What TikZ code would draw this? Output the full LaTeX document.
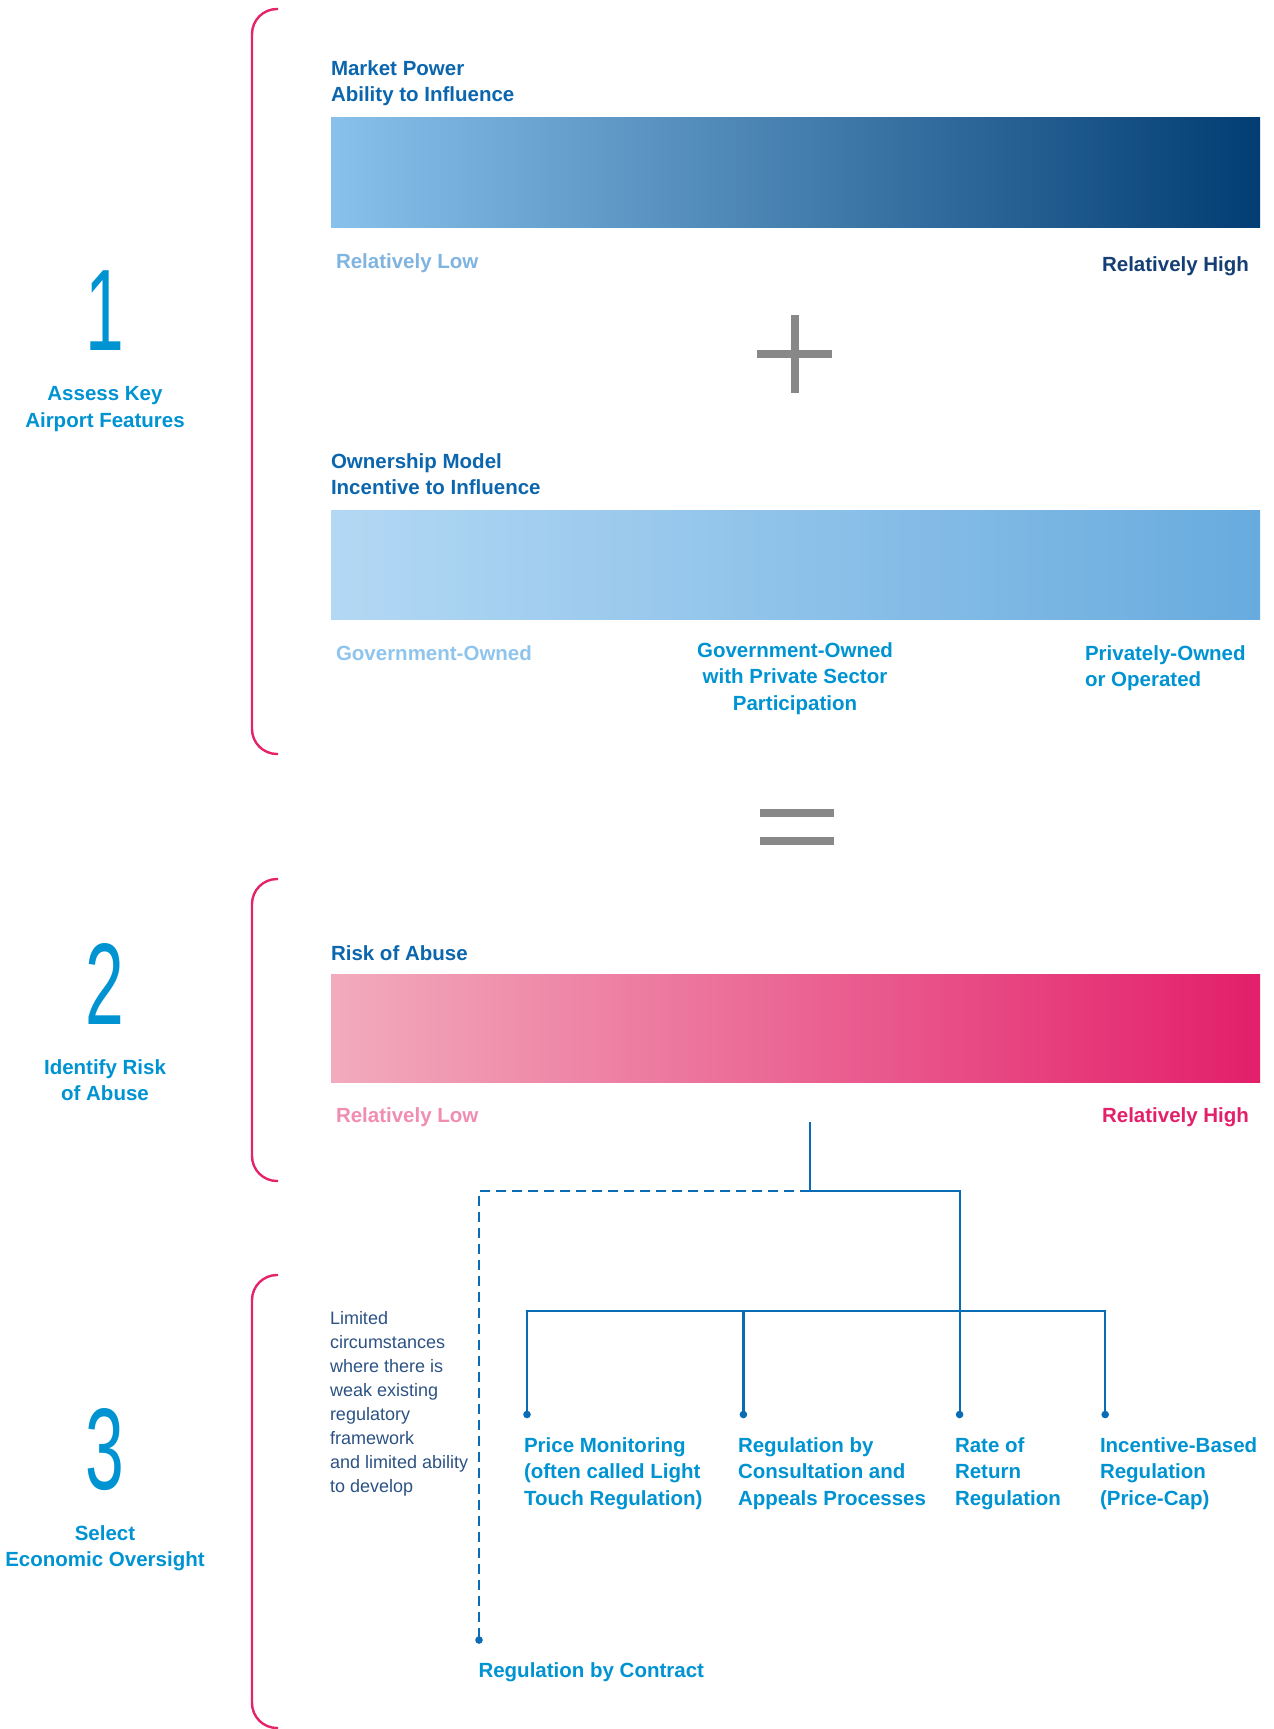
\documentclass[tikz,border=0pt]{standalone}
\usepackage{fontspec}
\setmainfont{Liberation Sans}
\usepackage{graphicx}
\usetikzlibrary{positioning}

\definecolor{titleblue}{HTML}{0B66AE}
\definecolor{stepcyan}{HTML}{0093D2}
\definecolor{navyblue}{HTML}{143E74}
\definecolor{lowblue}{HTML}{7FB4E0}
\definecolor{govblue}{HTML}{8FC5EC}
\definecolor{lowpink}{HTML}{F08DB1}
\definecolor{highpink}{HTML}{E3206A}
\definecolor{bracketred}{HTML}{E5236B}
\definecolor{signgray}{HTML}{888888}
\definecolor{treeblue}{HTML}{0A6CB5}
\definecolor{noteblue}{HTML}{2C5283}

\begin{document}
\begin{tikzpicture}[x=1pt, y=-1pt,
  every node/.style={inner sep=0pt, outer sep=0pt},
  boldtext/.style={font=\fontsize{20.5}{26.5}\selectfont\bfseries},
  bartitle/.style={boldtext, text=titleblue, align=left, anchor=north west},
  steplabel/.style={boldtext, text=stepcyan, align=center, anchor=north},
  stepnum/.style={font=\fontsize{116}{116}\selectfont, text=stepcyan},
  option/.style={boldtext, text=stepcyan, align=left, anchor=north west},
  bracket/.style={draw=bracketred, line width=2.4pt, rounded corners=25pt},
  sign/.style={draw=signgray, line width=8pt},
  tree/.style={draw=treeblue, line width=2.2pt},
  dashtree/.style={tree, dash pattern=on 10pt off 6pt}]
\useasboundingbox (0,0) rectangle (1274,1729);

% brackets
\draw[bracket] (278,9) -- (252,9) -- (252,754) -- (278,754);
\draw[bracket] (278,879) -- (252,879) -- (252,1181) -- (278,1181);
\draw[bracket] (278,1275) -- (252,1275) -- (252,1728) -- (278,1728);

% step numbers and labels
\node[stepnum] (one) at (105,311) {\scalebox{0.6}[1]{1}};
\node[steplabel] (assess) at (105,386.5) {Assess Key\\Airport Features};
\node[stepnum] (two) at (105,984) {\scalebox{0.6}[1]{2}};
\node[steplabel] (identify) at (105,1059.5) {Identify Risk\\of Abuse};
\node[stepnum] (three) at (105,1450) {\scalebox{0.6}[1]{3}};
\node[steplabel] (select) at (105,1525.5) {Select\\Economic Oversight};

% market power
\node[bartitle] (mp) at (331,60.5) {Market Power\\Ability to Influence};
\shade[left color={rgb,255:red,136;green,193;blue,235}, right color={rgb,255:red,2;green,61;blue,115}] (331,117) rectangle (1260,227);
\node[boldtext, text=lowblue, anchor=north west] (mplow) at (336,253.5) {Relatively Low};
\node[boldtext, text=navyblue, anchor=north east] (mphigh) at (1249,256.5) {Relatively High};

\draw[sign] (757,354) -- (832,354);
\draw[sign] (794.5,315) -- (794.5,393);

% ownership model
\node[bartitle] (om) at (331,453.5) {Ownership Model\\Incentive to Influence};
\shade[left color={rgb,255:red,179;green,216;blue,244}, right color={rgb,255:red,104;green,171;blue,222}] (331,510) rectangle (1260,619);
\node[boldtext, text=govblue, anchor=north west] (gov) at (336,645.5) {Government-Owned};
\node[boldtext, text=stepcyan, align=center, anchor=north] (mixed) at (795,642.5) {Government-Owned\\with Private Sector\\Participation};
\node[boldtext, text=stepcyan, align=left, anchor=north west] (priv) at (1085,645.5) {Privately-Owned\\or Operated};

\draw[sign] (760,813) -- (834,813);
\draw[sign] (760,841) -- (834,841);

% risk of abuse
\node[bartitle] (risk) at (331,945.5) {Risk of Abuse};
\shade[left color={rgb,255:red,242;green,171;blue,189}, right color={rgb,255:red,227;green,31;blue,106}] (331,974) rectangle (1260,1082);
\node[boldtext, text=lowpink, anchor=north west] (risklow) at (336,1107.5) {Relatively Low};
\node[boldtext, text=highpink, anchor=north east] (riskhigh) at (1249,1107.5) {Relatively High};

% oversight options
\node[font=\fontsize{18}{24.05}\selectfont, text=noteblue, align=left, anchor=north west] (note) at (330,1311.5) {Limited\\circumstances\\where there is\\weak existing\\regulatory\\framework\\and limited ability\\to develop};
\node[option] (pm) at (524,1437.5) {Price Monitoring\\(often called Light\\Touch Regulation)};
\node[option] (rc) at (738,1437.5) {Regulation by\\Consultation and\\Appeals Processes};
\node[option] (rr) at (955,1437.5) {Rate of\\Return\\Regulation};
\node[option] (ib) at (1100,1437.5) {Incentive-Based\\Regulation\\(Price-Cap)};
\node[option] (rbc) at (478.5,1662.5) {Regulation by Contract};

\coordinate (top) at (809.6,1122);
\coordinate (split) at (809.6,1191);
\coordinate (turn) at (959.6,1191);
\coordinate (dashturn) at (479,1191);
\coordinate (hub) at (959.6,1311);
\coordinate (pmdot) at (527,1414.5);
\coordinate (rcdot) at (743.4,1414.5);
\coordinate (rrdot) at (959.6,1414.5);
\coordinate (ibdot) at (1105.2,1414.5);
\coordinate (rbcdot) at (479,1640);

\draw[tree] (top) -- (split) -- (turn) -- (rrdot);
\draw[tree] (pmdot) -- (pmdot |- hub) -- (ibdot |- hub) -- (ibdot);
\draw[tree] (rcdot |- hub) -- (rcdot);
\draw[dashtree] (split) -- (dashturn) -- (rbcdot);
\foreach \d in {pmdot,rcdot,rrdot,ibdot,rbcdot}
  \fill[treeblue] (\d) circle (3.8pt);
\end{tikzpicture}
\end{document}
